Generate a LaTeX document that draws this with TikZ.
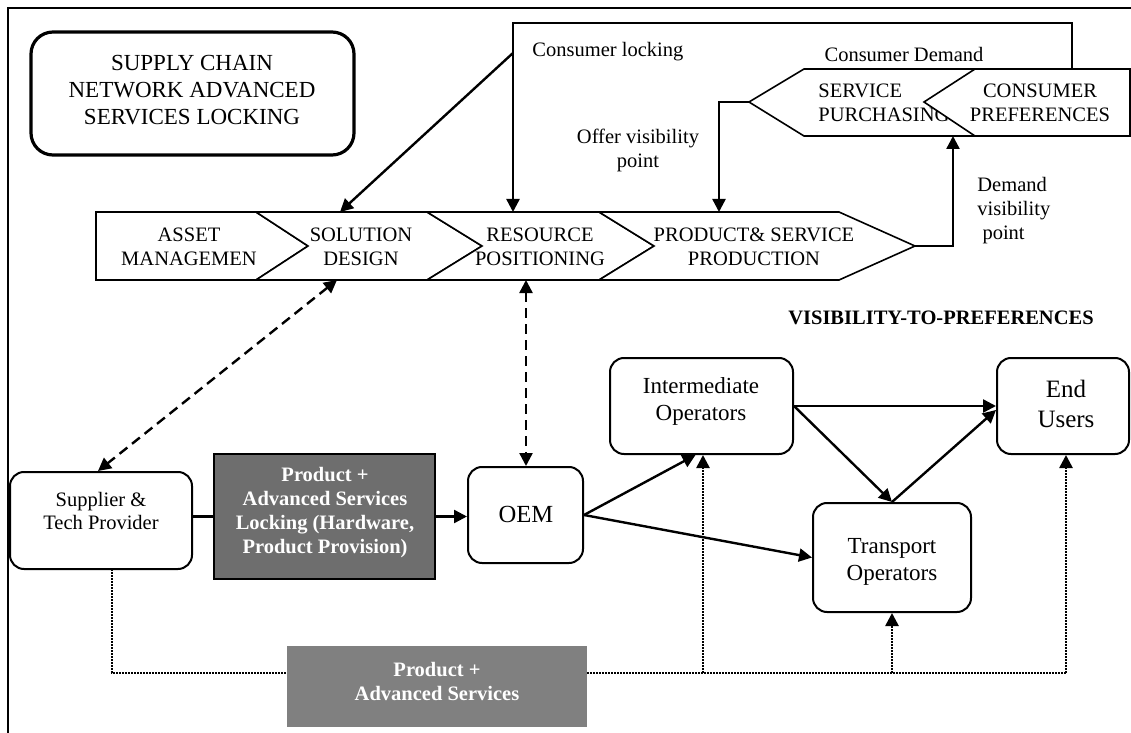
\documentclass[tikz,border=0pt]{standalone}
\usepackage{fontspec}
\setmainfont{Liberation Serif}
\usetikzlibrary{arrows.meta,fit}
\definecolor{boxdark}{RGB}{110,110,110}
\definecolor{boxgrey}{RGB}{128,128,128}
\begin{document}
\begin{tikzpicture}[x=0.5pt,y=-0.5pt,
  >={Triangle[length=6.5pt,width=6.5pt]},
  txt/.style={font=\fontsize{10.25}{12}\selectfont, align=center, inner sep=0pt},
  wtxt/.style={font=\fontsize{10.25}{12}\selectfont\bfseries, text=white, align=center, inner sep=0pt},
  chev/.style={draw, line width=0.8pt, fill=white, line join=miter},
  conn/.style={line width=1.2pt, ->},
  dashconn/.style={line width=1.2pt, <->, dash pattern=on 5pt off 3pt},
  dotline/.style={line width=1.3pt, dash pattern=on 1pt off 0.5pt},
  rbox/.style={draw, line width=1pt, rounded corners=7pt, inner sep=0pt, fill=white}]
\useasboundingbox (0,0) rectangle (1131,733);
% frame
\draw[line width=0.6pt] (8,733) -- (8,8) -- (1131,8);
% title
\node[draw, line width=1.6pt, rounded corners=11pt, inner sep=0pt, fit={(31,32) (354,155)}] (title) {};
\node[font=\fontsize{11.5}{13.5}\selectfont, align=center, inner sep=0pt] (titleT) at (192,90) {SUPPLY CHAIN\\NETWORK ADVANCED\\SERVICES LOCKING};
% chevrons
\draw[chev] (96,212) -- (256,212) -- (308,246) -- (256,280) -- (96,280) -- cycle;
\draw[chev] (256,212) -- (427,212) -- (482,246) -- (427,280) -- (256,280) -- (308,246) -- cycle;
\draw[chev] (427,212) -- (599,212) -- (654,246) -- (599,280) -- (427,280) -- (482,246) -- cycle;
\draw[chev] (599,212) -- (839,212) -- (915,246) -- (839,280) -- (599,280) -- (654,246) -- cycle;
\node[txt] (asset) at (189,247) {ASSET\\MANAGEMEN};
\node[txt] (solution) at (361,247) {SOLUTION\\DESIGN};
\node[txt] (resource) at (540,247) {RESOURCE\\POSITIONING};
\node[txt] (product) at (754,247) {PRODUCT\& SERVICE\\PRODUCTION};
% service purchasing / consumer preferences
\draw[chev] (749,102) -- (804,69) -- (1000,69) -- (1000,136) -- (804,136) -- cycle;
\node[txt, align=left, anchor=west] (spT) at (818,103) {SERVICE\\PURCHASING};
\draw[chev] (975,69) -- (1130,69) -- (1130,136) -- (975,136) -- (924,102) -- cycle;
\node[txt] (cpT) at (1040,103) {CONSUMER\\PREFERENCES};
% named points
\coordinate (solTop) at (340,212);
\coordinate (solBot) at (337,280);
\coordinate (resTop) at (513,212);
\coordinate (resBot) at (526,280);
\coordinate (prodTop) at (719,212);
\coordinate (prodTip) at (915,246);
\coordinate (spTip) at (749,102);
\coordinate (spBot) at (953,136);
\coordinate (cpTop) at (1072,69);
\coordinate (lockTR) at (1072,23);
\coordinate (lockTL) at (513,23);
\coordinate (lockMid) at (513,53);
% labels
\node[txt, anchor=west] (lockLbl) at (532,52) {Consumer locking};
\node[txt] (demLbl) at (904,54) {Consumer Demand};
\node[txt] (offerLbl) at (638,150) {Offer visibility\\point};
\node[txt, align=left, anchor=west] (dvisLbl) at (977,211) {Demand\\visibility\\\ point};
\node[txt, font=\fontsize{10.25}{12}\selectfont\bfseries] (vtp) at (941,318) {VISIBILITY-TO-PREFERENCES};
% upper connectors
\draw[conn] (cpTop) -- (lockTR) -- (lockTL) -- (resTop);
\draw[conn] (lockMid) -- (solTop);
\draw[conn] (spTip) -| (prodTop);
\draw[conn] (prodTip) -| (spBot);
% lower boxes
\node[rbox, fit={(10,472) (192,569)}] (sup) {};
\node[txt, font=\fontsize{10.25}{11.5}\selectfont] (supT) at (101,511) {Supplier \&\\Tech Provider};
\node[draw, line width=1pt, fill=boxdark, inner sep=0pt, fit={(214,454) (435,579)}] (lock) {};
\node[wtxt] (lockT) at (325,513) {Product +\\Advanced Services\\Locking (Hardware,\\Product Provision)};
\node[fill=boxgrey, inner sep=0pt, fit={(287,646) (587,727)}] (bot) {};
\node[wtxt] (botT) at (437,681) {Product +\\Advanced Services};
\node[rbox, fit={(468,467) (583,563)}] (oem) {};
\node[txt, font=\fontsize{12.3}{14}\selectfont] (oemT) at (526,514) {OEM};
\node[rbox, fit={(610,358) (793,454)}] (inter) {};
\node[txt, font=\fontsize{11.5}{13.5}\selectfont] (interT) at (701,401) {Intermediate\\Operators};
\node[rbox, fit={(997,358) (1129,454)}] (endu) {};
\node[txt, font=\fontsize{12.5}{15}\selectfont] (enduT) at (1066,404) {End\\Users};
\node[rbox, fit={(813,503) (971,612)}] (trans) {};
\node[txt, font=\fontsize{11.5}{13.5}\selectfont] (transT) at (892,562) {Transport\\Operators};
% dashed links
\draw[dashconn] (solBot) -- ([xshift=-1.5pt]sup.north);
\draw[dashconn] (resBot) -- (resBot |- oem.north);
% main flow
\draw[line width=1.2pt] (lock.west -| sup.east) -- (lock.west);
\draw[conn] (lock.east) -- (lock.east -| oem.west);
\draw[conn] (oem.east) -- ([xshift=-3pt]inter.south);
\draw[conn] (oem.east) -- (trans.west);
\draw[conn] (inter.east) -- (endu.west);
\draw[conn] (inter.east) -- (trans.north);
\draw[conn] (trans.north) -- ([yshift=-2pt]endu.west);
% dotted distribution
\coordinate (supB) at (112,569);
\coordinate (botW) at (287,673);
\coordinate (botE) at (587,673);
\coordinate (j1) at (703,673);
\coordinate (j2) at (892,673);
\coordinate (j3) at (1066,673);
\draw[dotline] (supB) |- (botW);
\draw[dotline] (botE) -- (j3);
\draw[dotline, ->] (j1) -- (j1 |- inter.south);
\draw[dotline, ->] (j2) -- (j2 |- trans.south);
\draw[dotline, ->] (j3) -- (j3 |- endu.south);
\end{tikzpicture}
\end{document}
